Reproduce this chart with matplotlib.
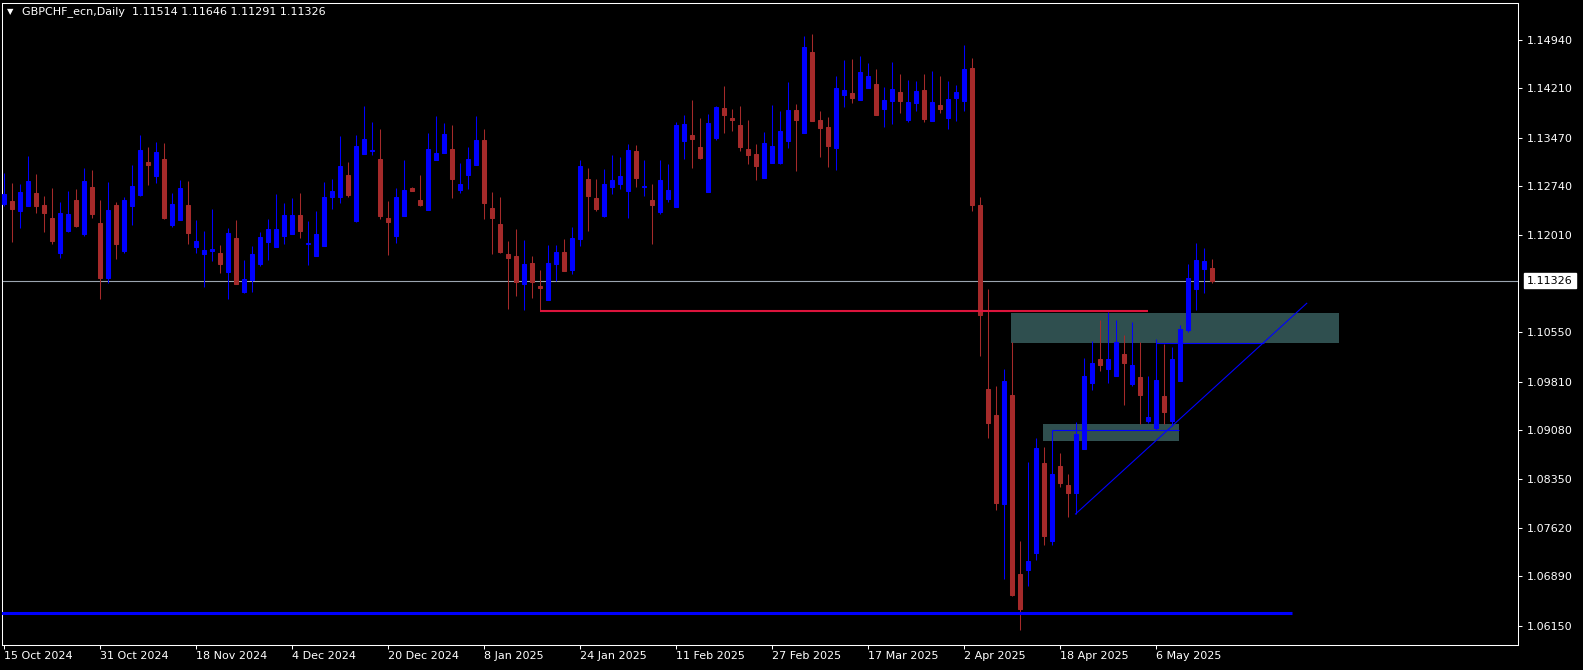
import matplotlib
matplotlib.use("Agg")
import matplotlib.pyplot as plt
import numpy as np
from matplotlib.patches import Rectangle
from matplotlib.transforms import blended_transform_factory

symbol = "GBPCHF_ecn,Daily"

# daily OHLC, one entry per bar (15 Oct 2024 .. 15 May 2025)
opens = [
    1.12481, 1.12521, 1.12376, 1.12451, 1.12641, 1.12461, 1.12266, 1.11746,
    1.12076, 1.12536, 1.12031, 1.12731, 1.12191, 1.11371, 1.12461, 1.11776,
    1.12451, 1.12616, 1.13106, 1.12901, 1.13151, 1.12166, 1.12241, 1.12461,
    1.11836, 1.11731, 1.11776, 1.11741, 1.11461, 1.11966, 1.11161, 1.11336,
    1.11581, 1.11911, 1.11836, 1.12001, 1.12031, 1.12311, 1.11881, 1.11701,
    1.11851, 1.12581, 1.12581, 1.12911, 1.12221, 1.13231, 1.13271, 1.13151,
    1.12266, 1.12001, 1.12301, 1.12716, 1.12536, 1.12391, 1.13141, 1.13241,
    1.13301, 1.12691, 1.12911, 1.13061, 1.13436, 1.12416, 1.12176, 1.11726,
    1.11696, 1.11281, 1.11591, 1.11246, 1.11041, 1.11581, 1.11756, 1.11491,
    1.11956, 1.12851, 1.12566, 1.12301, 1.12736, 1.12781, 1.12676, 1.13271,
    1.12731, 1.12536, 1.12361, 1.12556, 1.12436, 1.13426, 1.13511, 1.13331,
    1.12661, 1.13471, 1.13916, 1.13766, 1.13661, 1.13301, 1.13226, 1.12866,
    1.13096, 1.13096, 1.13426, 1.13886, 1.13546, 1.14756, 1.13736, 1.13631,
    1.13321, 1.14116, 1.14141, 1.14041, 1.14216, 1.14276, 1.13906, 1.14026,
    1.14156, 1.13741, 1.13996, 1.14186, 1.13726, 1.13961, 1.13771, 1.14071,
    1.14026, 1.14516, 1.12467, 1.09701, 1.09311, 1.07973, 1.09608, 1.06923,
    1.06986, 1.07238, 1.08593, 1.07417, 1.08546, 1.08261, 1.08137, 1.08801,
    1.09791, 1.10151, 1.10001, 1.09901, 1.10226, 1.09781, 1.09881, 1.09221,
    1.09121, 1.09596, 1.09221, 1.09826, 1.10591, 1.11201, 1.11501, 1.11514,
]
highs = [
    1.12936, 1.12791, 1.12776, 1.13196, 1.12926, 1.12596, 1.12716, 1.12506,
    1.12671, 1.12701, 1.13016, 1.12986, 1.12536, 1.12806, 1.12506, 1.12581,
    1.13061, 1.13511, 1.13331, 1.13406, 1.13391, 1.12641, 1.12836, 1.12821,
    1.12236, 1.12071, 1.12401, 1.11861, 1.12116, 1.12236, 1.11636, 1.11851,
    1.12056, 1.12251, 1.12626, 1.12491, 1.12566, 1.12641, 1.12221, 1.12371,
    1.12806, 1.12851, 1.13496, 1.13106, 1.13511, 1.13946, 1.13706, 1.13601,
    1.12521, 1.12716, 1.13136, 1.12731, 1.12911, 1.13541, 1.13796, 1.13691,
    1.13661, 1.13091, 1.13331, 1.13796, 1.13601, 1.12656, 1.12581, 1.11921,
    1.12101, 1.11936, 1.11696, 1.11486, 1.11861, 1.11861, 1.11951, 1.12131,
    1.13136, 1.13016, 1.12851, 1.13001, 1.13211, 1.13181, 1.13376, 1.13361,
    1.13136, 1.12776, 1.13136, 1.13076, 1.13706, 1.13811, 1.14036, 1.13766,
    1.13826, 1.13946, 1.14246, 1.13901, 1.13946, 1.13736, 1.13376, 1.13556,
    1.13961, 1.13871, 1.14306, 1.13976, 1.14996, 1.15026, 1.13871, 1.13781,
    1.14396, 1.14636, 1.14651, 1.14696, 1.14591, 1.14501, 1.14231, 1.14606,
    1.14426, 1.14336, 1.14321, 1.14426, 1.14471, 1.14396, 1.14321, 1.14261,
    1.14861, 1.14666, 1.12582, 1.11200, 1.09741, 1.09999, 1.10401, 1.07421,
    1.08599, 1.08966, 1.08828, 1.09081, 1.08741, 1.08426, 1.09211, 1.10166,
    1.10421, 1.10736, 1.10856, 1.10736, 1.10511, 1.10706, 1.10406, 1.09896,
    1.10451, 1.10376, 1.10331, 1.10661, 1.11576, 1.11891, 1.11816, 1.11646,
]
lows = [
    1.12446, 1.11911, 1.12121, 1.12446, 1.12346, 1.12061, 1.11881, 1.11671,
    1.12061, 1.12136, 1.11996, 1.12271, 1.11056, 1.11296, 1.11656, 1.11746,
    1.12166, 1.12596, 1.12766, 1.12796, 1.12251, 1.12136, 1.12236, 1.11881,
    1.11746, 1.11236, 1.11626, 1.11446, 1.11056, 1.11276, 1.11146, 1.11161,
    1.11551, 1.11641, 1.11831, 1.11881, 1.12026, 1.11971, 1.11566, 1.11696,
    1.11846, 1.12406, 1.12496, 1.12586, 1.12211, 1.13226, 1.13216, 1.12256,
    1.11716, 1.11896, 1.12296, 1.12671, 1.12446, 1.12386, 1.13136, 1.13234,
    1.12571, 1.12646, 1.12706, 1.13054, 1.12256, 1.11731, 1.11746, 1.10906,
    1.11101, 1.10891, 1.11071, 1.10876, 1.11036, 1.11326, 1.11471, 1.11431,
    1.11851, 1.12076, 1.12376, 1.12286, 1.12631, 1.12706, 1.12271, 1.12736,
    1.12601, 1.11881, 1.12331, 1.12511, 1.12431, 1.13156, 1.13021, 1.13156,
    1.12656, 1.13441, 1.13546, 1.13576, 1.13276, 1.13081, 1.12841, 1.12861,
    1.13091, 1.13081, 1.13321, 1.12976, 1.13541, 1.13721, 1.13186, 1.13036,
    1.12991, 1.13936, 1.13996, 1.14036, 1.14209, 1.13811, 1.13636, 1.13681,
    1.13846, 1.13711, 1.13876, 1.13711, 1.13721, 1.13846, 1.13606, 1.13726,
    1.13876, 1.12364, 1.10193, 1.08972, 1.07892, 1.06848, 1.06596, 1.06079,
    1.06739, 1.07141, 1.07358, 1.07364, 1.08231, 1.07786, 1.07826, 1.08796,
    1.09691, 1.09971, 1.09791, 1.09896, 1.09466, 1.09751, 1.09181, 1.09191,
    1.09091, 1.09181, 1.09151, 1.09821, 1.10561, 1.10891, 1.11146, 1.11291,
]
closes = [
    1.12626, 1.12401, 1.12656, 1.12821, 1.12451, 1.12346, 1.11926, 1.12341,
    1.12326, 1.12146, 1.12821, 1.12331, 1.11371, 1.12391, 1.11881, 1.12536,
    1.12746, 1.13286, 1.13061, 1.13256, 1.12266, 1.12476, 1.12716, 1.12046,
    1.11921, 1.11786, 1.11801, 1.11581, 1.12041, 1.11281, 1.11351, 1.11726,
    1.11981, 1.12101, 1.12101, 1.12311, 1.12311, 1.12076, 1.11896, 1.12026,
    1.12581, 1.12671, 1.13046, 1.12611, 1.13346, 1.13451, 1.13286, 1.12301,
    1.12211, 1.12581, 1.12686, 1.12676, 1.12461, 1.13301, 1.13241, 1.13526,
    1.12856, 1.12776, 1.13151, 1.13436, 1.12496, 1.12271, 1.11761, 1.11671,
    1.11311, 1.11576, 1.11311, 1.11221, 1.11591, 1.11756, 1.11476, 1.11966,
    1.13046, 1.12601, 1.12406, 1.12776, 1.12836, 1.12896, 1.13286, 1.12871,
    1.12746, 1.12466, 1.12836, 1.12686, 1.13661, 1.13676, 1.13456, 1.13166,
    1.13691, 1.13931, 1.13816, 1.13741, 1.13336, 1.13216, 1.13051, 1.13396,
    1.13346, 1.13571, 1.13886, 1.13736, 1.14831, 1.13726, 1.13621, 1.13351,
    1.14216, 1.14186, 1.14071, 1.14456, 1.14396, 1.13816, 1.14036, 1.14201,
    1.14026, 1.14006, 1.14171, 1.13756, 1.14006, 1.13906, 1.14051, 1.14156,
    1.14501, 1.12467, 1.10814, 1.09195, 1.07991, 1.09821, 1.06612, 1.06400,
    1.07118, 1.08816, 1.07496, 1.08426, 1.08296, 1.08141, 1.09026, 1.09896,
    1.10091, 1.10061, 1.10151, 1.10406, 1.10096, 1.10061, 1.09616, 1.09281,
    1.09836, 1.09361, 1.10151, 1.10601, 1.11366, 1.11636, 1.11621, 1.11326,
]

date_labels = ["15 Oct 2024", "31 Oct 2024", "18 Nov 2024", "4 Dec 2024",
               "20 Dec 2024", "8 Jan 2025", "24 Jan 2025", "11 Feb 2025",
               "27 Feb 2025", "17 Mar 2025", "2 Apr 2025", "18 Apr 2025",
               "6 May 2025"]
label_every = 12
# the 1.11280 level sits under the bid label, so it gets no text of its own
price_ticks = [1.14940, 1.14210, 1.13470, 1.12740, 1.12010, 1.10550,
               1.09810, 1.09080, 1.08350, 1.07620, 1.06890, 1.06150]
bid = closes[-1]

# chart objects: (bar from, bar to, price ...)
resistance = (67, 143, 1.10876)
support = (-1, 161, 1.06340)
zone_upper = (125.9, 166.9, 1.10386, 1.10841)
zone_lower = (129.9, 146.9, 1.08925, 1.09175)
level_low = (131, 146.9, 1.09081)
level_high = (144, 157.5, 1.10386)
trend = (134, 1.07826, 162.9, 1.10986)

W, H = 1583, 670
fig = plt.figure(figsize=(W / 100, H / 100), dpi=100, facecolor="black")
ax = fig.add_axes([2 / W, 25 / H, 1516 / W, 642 / H])
ax.set_facecolor("black")
ax.set_xlim(-0.19, 189.31)
ax.set_ylim(1.05861, 1.15490)

o = np.array(opens)
h = np.array(highs)
l = np.array(lows)
c = np.array(closes)
x = np.arange(len(o))
cols = np.where(c >= o, "#0000FF", "#A52A2A")

# zones behind everything
for x0, x1, p0, p1 in [zone_upper, zone_lower]:
    ax.add_patch(Rectangle((x0, p0), x1 - x0, p1 - p0, fc="#2F4F4F", ec="none", zorder=1))

ax.axhline(bid, color="#9BA5B0", lw=0.8, zorder=1.5)

ax.vlines(x, l, h, colors=cols, lw=0.75, zorder=3)
ax.bar(x, np.abs(c - o), bottom=np.minimum(o, c), width=0.5, color=cols,
       edgecolor=cols, linewidth=0.75, zorder=3)

ax.hlines(resistance[2], resistance[0], resistance[1], color="#DC143C", lw=1.5, zorder=4)
ax.hlines(support[2], support[0], support[1], color="#0000FF", lw=2.2, zorder=4)
ax.hlines(level_low[2], level_low[0], level_low[1], color="#0000FF", lw=0.8, zorder=4)
ax.hlines(level_high[2], level_high[0], level_high[1], color="#0000FF", lw=0.8, zorder=4)
ax.plot([trend[0], trend[2]], [trend[1], trend[3]], color="#0000FF", lw=0.8, zorder=4)

# axes styling
for s in ax.spines.values():
    s.set_color("white")
    s.set_linewidth(0.75)

ax.yaxis.tick_right()
ax.set_yticks(price_ticks)
ax.set_yticklabels([f"{v:.5f}" for v in price_ticks])
ax.tick_params(axis="y", colors="white", length=3, width=0.75, pad=3.5, labelsize=8)

ax.set_xticks(np.arange(len(date_labels)) * label_every)
ax.set_xticklabels(date_labels)
for t in ax.get_xticklabels():
    t.set_horizontalalignment("left")
ax.tick_params(axis="x", colors="white", length=3, width=0.75, pad=1.5, labelsize=8)

blend = blended_transform_factory(ax.transAxes, ax.transData)
ax.annotate(f"{bid:.5f}", xy=(1, bid), xycoords=blend, xytext=(6.5, 0),
            textcoords="offset points", ha="left", va="center", fontsize=8,
            color="black", zorder=10, annotation_clip=False,
            bbox=dict(boxstyle="square,pad=0.25", fc="white", ec="white"))

title = f"{symbol}  {opens[-1]:.5f} {highs[-1]:.5f} {lows[-1]:.5f} {closes[-1]:.5f}"
fig.text(10.5 / W, 1 - 12 / H, "\u25BC", color="white", fontsize=6, ha="center", va="center")
fig.text(22 / W, 1 - 12 / H, title, color="white", fontsize=8, ha="left", va="center")

fig.savefig("out.png", dpi=100, facecolor="black")
